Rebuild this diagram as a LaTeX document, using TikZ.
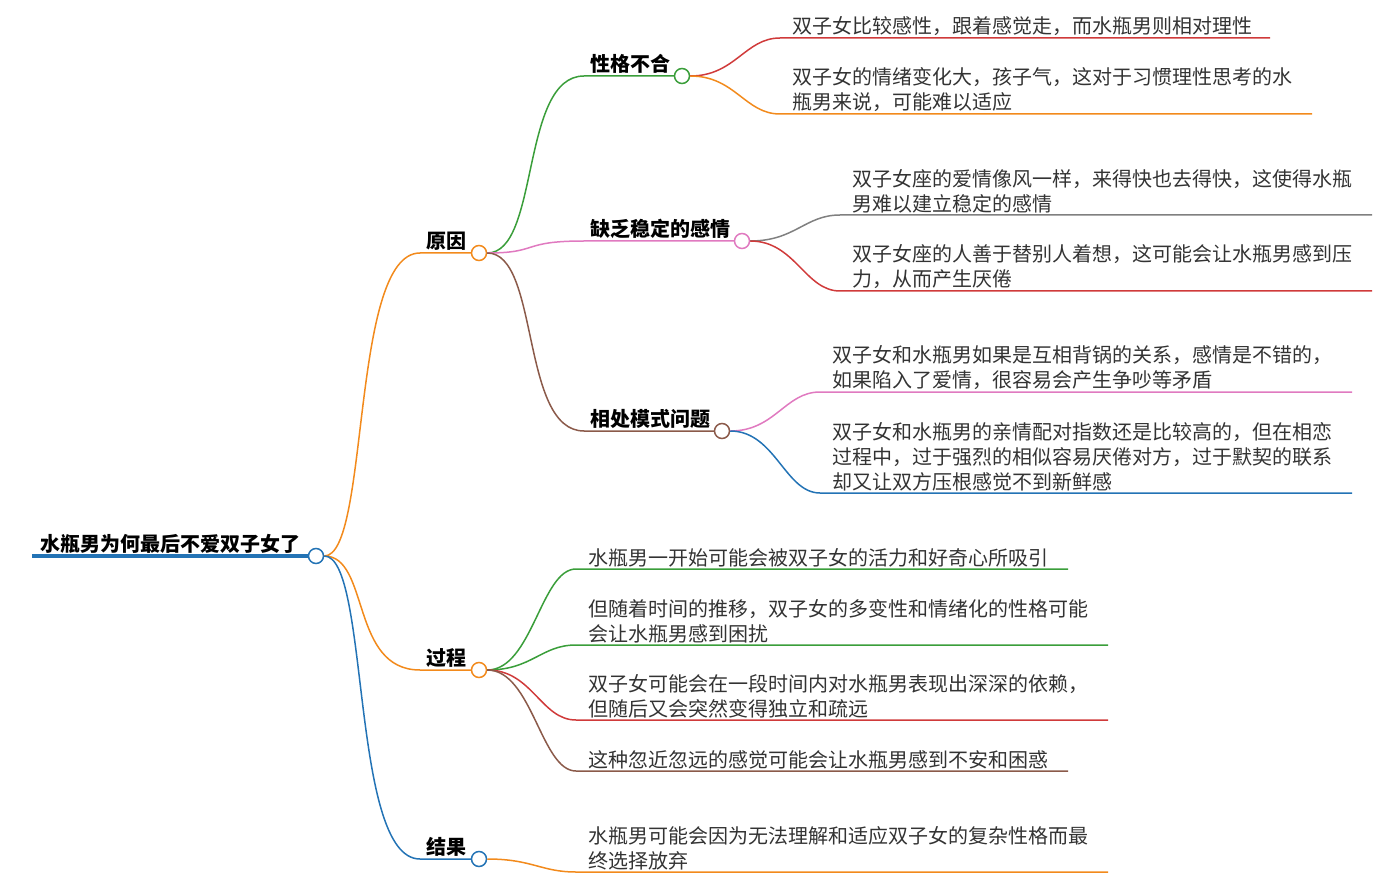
\documentclass[tikz,border=0pt]{standalone}
\usepackage{fontspec}
\newfontfamily\cjk{Noto Sans CJK SC}
\usetikzlibrary{positioning}
\definecolor{cgreen}{HTML}{3A9E3A}
\definecolor{corange}{HTML}{F28A1C}
\definecolor{cblue}{HTML}{2373B5}
\definecolor{cred}{HTML}{D03A3A}
\definecolor{cpink}{HTML}{E07AC0}
\definecolor{cbrown}{HTML}{8B5A4A}
\definecolor{cgray}{HTML}{808080}
\begin{document}
\begin{tikzpicture}[x=1pt,y=-1pt,font=\cjk\fontsize{20}{25}\selectfont]
    \tikzstyle{dot}=[circle,draw,fill=white,line width=1.5pt,inner sep=0pt,minimum size=15]
    \tikzstyle{lbl}=[anchor=south west,inner sep=2pt,font=\cjk\bfseries\fontsize{20}{25}\selectfont]
    \tikzstyle{leaf}=[anchor=south west,align=left,inner sep=2pt,text=black!80]
    \tikzstyle{link}=[line width=1.5pt]
    \useasboundingbox (0,0) rectangle (1395,885);

    % root
    \node[dot,draw=cblue] (root) at (316,556) {};
    \node[lbl] (roott) at (38,556) {水瓶男为何最后不爱双子女了};
    \draw[cblue,line width=3.5pt] (32,556) -- (root.west);

    % level one
    \node[dot,draw=corange] (why) at (479,253) {};
    \node[dot,draw=corange] (how) at (479,670) {};
    \node[dot,draw=cblue] (end) at (479,859) {};
    \node[lbl] at (424,253) {原因};
    \node[lbl] at (424,670) {过程};
    \node[lbl] at (424,859) {结果};
    \draw[link,corange] (root.east) .. controls (370,556) and (350,253) .. (420,253) -- (why.west);
    \draw[link,corange] (root.east) .. controls (370,556) and (350,670) .. (420,670) -- (how.west);
    \draw[link,cblue] (root.east) .. controls (370,556) and (350,859) .. (420,859) -- (end.west);

    % level two
    \node[dot,draw=cgreen] (char) at (682,76) {};
    \node[dot,draw=cpink] (love) at (742,241) {};
    \node[dot,draw=cbrown] (mode) at (722,431) {};
    \node[lbl] at (588,76) {性格不合};
    \node[lbl] at (588,241) {缺乏稳定的感情};
    \node[lbl] at (588,431) {相处模式问题};
    \draw[link,cgreen] (why.east) .. controls (540,253) and (520,76) .. (584,76) -- (char.west);
    \draw[link,cpink] (why.east) .. controls (540,253) and (520,241) .. (584,241) -- (love.west);
    \draw[link,cbrown] (why.east) .. controls (540,253) and (520,431) .. (584,431) -- (mode.west);

    % leaves
    \newcommand{\leafw}[7]{%
      \node[leaf] (#2) at (#3,#4) {#6};
      \draw[link,#5] (#1.east) .. controls +(45,0) and (#3-45,#4) .. (#3-10,#4) -- (#7,#4);}
    \leafw{char}{c1}{790}{38}{cred}{双子女比较感性，跟着感觉走，而水瓶男则相对理性}{1270}
    \leafw{char}{c2}{790}{114}{corange}{双子女的情绪变化大，孩子气，这对于习惯理性思考的水\\瓶男来说，可能难以适应}{1312}
    \leafw{love}{l1}{850}{215}{cgray}{双子女座的爱情像风一样，来得快也去得快，这使得水瓶\\男难以建立稳定的感情}{1372}
    \leafw{love}{l2}{850}{291}{cred}{双子女座的人善于替别人着想，这可能会让水瓶男感到压\\力，从而产生厌倦}{1372}
    \leafw{mode}{m1}{830}{392}{cpink}{双子女和水瓶男如果是互相背锅的关系，感情是不错的，\\如果陷入了爱情，很容易会产生争吵等矛盾}{1352}
    \leafw{mode}{m2}{830}{493}{cblue}{双子女和水瓶男的亲情配对指数还是比较高的，但在相恋\\过程中，过于强烈的相似容易厌倦对方，过于默契的联系\\却又让双方压根感觉不到新鲜感}{1352}
    \leafw{how}{h1}{586}{569}{cgreen}{水瓶男一开始可能会被双子女的活力和好奇心所吸引}{1068}
    \leafw{how}{h2}{586}{645}{cgreen}{但随着时间的推移，双子女的多变性和情绪化的性格可能\\会让水瓶男感到困扰}{1108}
    \leafw{how}{h3}{586}{720}{cred}{双子女可能会在一段时间内对水瓶男表现出深深的依赖，\\但随后又会突然变得独立和疏远}{1108}
    \leafw{how}{h4}{586}{771}{cbrown}{这种忽近忽远的感觉可能会让水瓶男感到不安和困惑}{1068}
    \leafw{end}{e1}{586}{872}{corange}{水瓶男可能会因为无法理解和适应双子女的复杂性格而最\\终选择放弃}{1108}
\end{tikzpicture}
\end{document}
